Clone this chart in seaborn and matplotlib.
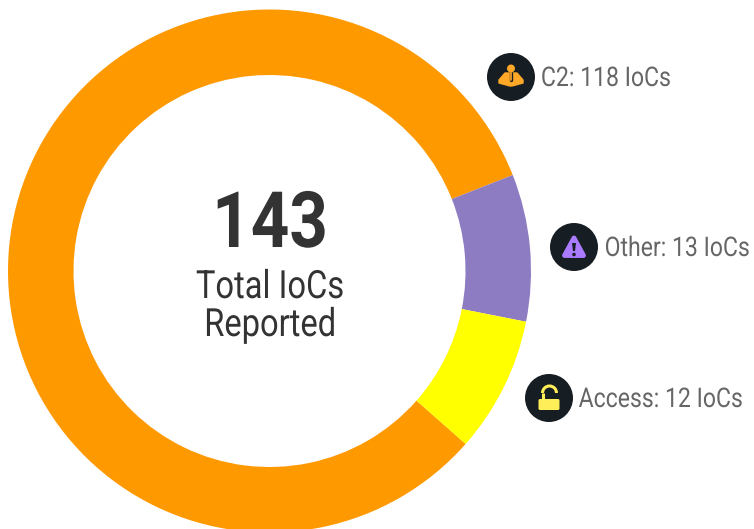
import matplotlib
matplotlib.use("Agg")
import matplotlib.pyplot as plt
import matplotlib.patches as mpatches
from matplotlib.patheffects import AbstractPathEffect
from matplotlib.transforms import Affine2D
import seaborn as sns

categories = ["C2", "Other", "Access"]
ioc_counts = [118, 13, 12]
total_iocs = 143
center_lines = ["Total IoCs", "Reported"]

ring_colors = sns.color_palette(["#FF9900", "#8E7CC3", "#FFFF00"])
dark = "#161D23"

sns.set_theme(style="white")
plt.rcParams["font.family"] = ["Roboto", "DejaVu Sans"]

W, H = 754, 529
fig = plt.figure(figsize=(W / 100, H / 100), dpi=100)
ax = fig.add_axes([0, 0, 1, 1])


# no condensed Roboto here, so squeeze the real text sideways when it is drawn
class Squeeze(AbstractPathEffect):
    def __init__(self, sx, x0):
        super().__init__()
        self.sx = sx
        self.x0 = x0

    def draw_path(self, renderer, gc, tpath, affine, rgbFace=None):
        t = affine + Affine2D().translate(-self.x0, 0).scale(self.sx, 1).translate(self.x0, 0)
        renderer.draw_path(gc, tpath, t, rgbFace)


ax.pie(
    ioc_counts,
    colors=ring_colors,
    startangle=-41.4,
    counterclock=False,
    center=(269.5, H - 271),
    radius=261.5,
    wedgeprops={"width": 65.5, "linewidth": 0},
    frame=False,
)
ax.set_xlim(0, W)
ax.set_ylim(0, H)
ax.set_aspect("equal")
ax.axis("off")

ax.text(270, H - 247, str(total_iocs), ha="center", va="baseline",
        fontsize=56, fontweight="bold", color="#333333",
        path_effects=[Squeeze(0.865, 270)])
for line, base in zip(center_lines, [298, 336]):
    ax.text(270, H - base, line, ha="center", va="baseline",
            fontsize=28, color="#333333", path_effects=[Squeeze(0.84, 270)])


def flip(pts):
    return [(x, H - y) for x, y in pts]


def badge(cx, cy):
    ax.add_patch(mpatches.Circle((cx, H - cy), 24, color=dark, lw=0))


def joystick(cx, cy):
    col = "#FFA726"
    ax.add_patch(mpatches.Polygon(flip([(cx - 12, cy + 3), (cx - 6, cy - 4), (cx + 6, cy - 4), (cx + 12, cy + 3),
                                        (cx + 12, cy + 6), (cx + 1, cy + 9), (cx - 1, cy + 9), (cx - 12, cy + 6)]),
                                  color=col, lw=1, joinstyle="round"))
    ax.plot([cx, cx], [H - cy + 4, H - cy - 3], color=dark, lw=2.4, solid_capstyle="round")
    ax.plot([cx, cx], [H - cy + 8, H - cy - 3], color=col, lw=1.2, solid_capstyle="round")
    ax.add_patch(mpatches.Circle((cx, H - cy + 8.5), 4, color=col, lw=0))


def warning(cx, cy):
    col = "#AB7BFF"
    ax.add_patch(mpatches.Polygon(flip([(cx, cy - 9), (cx + 9.5, cy + 8.5), (cx - 9.5, cy + 8.5)]),
                                  facecolor=col, edgecolor=col, lw=3.5, joinstyle="round"))
    ax.add_patch(mpatches.Polygon(flip([(cx - 2, cy - 4), (cx + 2, cy - 4), (cx + 1, cy + 4), (cx - 1, cy + 4)]),
                                  color=dark, lw=0))
    ax.add_patch(mpatches.Circle((cx, H - cy - 7.5), 1.8, color=dark, lw=0))


def lock(cx, cy):
    col = "#FFEE58"
    ax.add_patch(mpatches.FancyBboxPatch((cx - 10.5, H - cy - 12), 21, 11,
                                         boxstyle="round,pad=0,rounding_size=1.5", color=col, lw=0))
    ax.add_patch(mpatches.Arc((cx + 0.5, H - cy + 5), 14, 14, theta1=0, theta2=180, color=col, lw=2.2))
    ax.plot([cx - 6.5, cx - 6.5], [H - cy + 5, H - cy - 2], color=col, lw=2.2, solid_capstyle="butt")


badge_pos = [(511, 77), (574, 247), (549, 398)]
label_right = [671, 750, 743]
icons = [joystick, warning, lock]

for name, n, pos, right, icon in zip(categories, ioc_counts, badge_pos, label_right, icons):
    badge(pos[0], pos[1])
    icon(pos[0], pos[1])
    ax.text(right, H - pos[1] - 9, f"{name}: {n} IoCs", ha="right", va="baseline",
            fontsize=19.5, color="#666666", path_effects=[Squeeze(0.85, right)])

fig.savefig("out.png", dpi=100)
